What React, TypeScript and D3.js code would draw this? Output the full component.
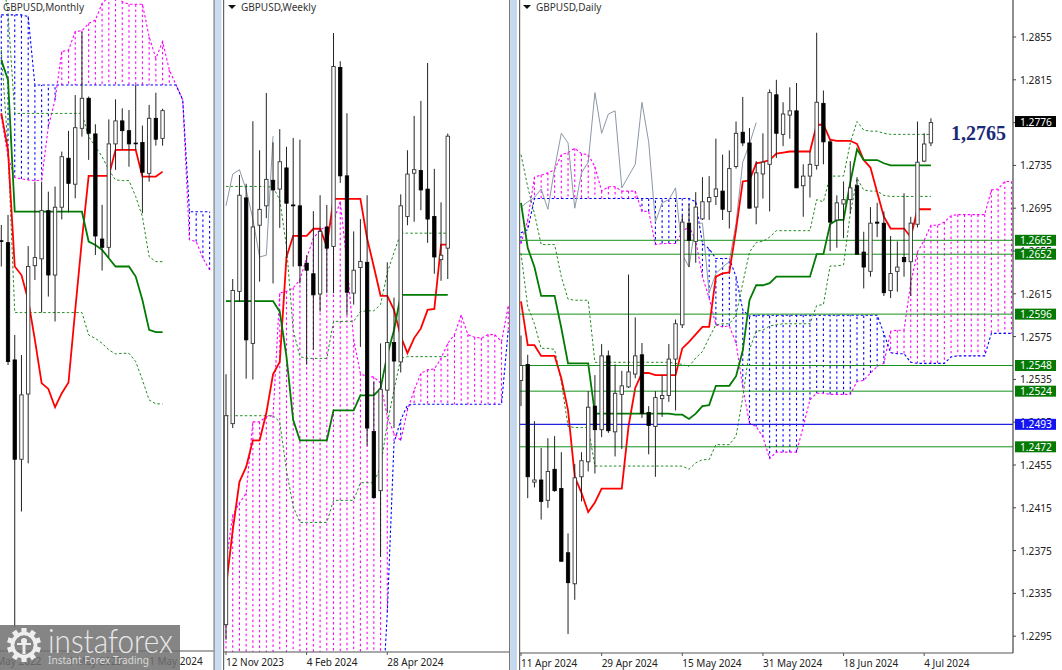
import * as d3 from "d3";

type Bar = [number, number, number, number]; // open, high, low, close

// --- Monthly ---
const monthlyBars: Bar[] = [
  [1.2163, 1.2237, 1.2042, 1.216], [1.2154, 1.2284, 1.158, 1.1596], [1.1604, 1.1721, 1.035, 1.1138], [1.1138, 1.1627, 1.0893, 1.144],
  [1.1444, 1.2138, 1.1119, 1.2042], [1.2046, 1.244, 1.1979, 1.2084], [1.2078, 1.244, 1.1826, 1.2304], [1.2304, 1.2393, 1.1901, 1.2002],
  [1.2002, 1.2417, 1.1784, 1.232], [1.232, 1.2581, 1.2263, 1.2557], [1.255, 1.2678, 1.2296, 1.2432], [1.2428, 1.2846, 1.2362, 1.2693],
  [1.269, 1.3143, 1.2651, 1.2831], [1.2831, 1.2839, 1.2542, 1.2667], [1.2664, 1.2709, 1.2096, 1.2185], [1.2171, 1.2331, 1.2023, 1.2132],
  [1.2132, 1.2732, 1.2085, 1.2617], [1.2617, 1.2826, 1.2495, 1.2725], [1.2725, 1.2784, 1.2589, 1.2679], [1.2679, 1.2776, 1.251, 1.2617],
  [1.2621, 1.2893, 1.2589, 1.2618], [1.2624, 1.2703, 1.2292, 1.2484], [1.2479, 1.28, 1.244, 1.2737], [1.2737, 1.2857, 1.2609, 1.2639],
  [1.2643, 1.2782, 1.2609, 1.2773],
];
const monthlyTenkan = [1.2761, 1.2588, 1.2042, 1.2002, 1.1885, 1.1698, 1.1495, 1.1468, 1.1382, 1.1448, 1.1498, 1.1838, 1.2167, 1.2467, 1.2467, 1.2467, 1.2467, 1.2589, 1.2589, 1.2589, 1.2589, 1.2464, 1.2464, 1.2464, 1.2487];
const monthlyKijun = [1.301, 1.2917, 1.2299, 1.2299, 1.2299, 1.2299, 1.2299, 1.2299, 1.2299, 1.2299, 1.2299, 1.2299, 1.2299, 1.2159, 1.2143, 1.212, 1.2081, 1.2042, 1.2042, 1.2042, 1.1995, 1.1885, 1.1745, 1.1734, 1.1734];
const monthlyUpper = [1.3448, 1.3229, 1.276, 1.276, 1.276, 1.276, 1.276, 1.276, 1.276, 1.276, 1.276, 1.276, 1.276, 1.2651, 1.2604, 1.2557, 1.2495, 1.2448, 1.2445, 1.2445, 1.237, 1.2276, 1.2088, 1.2065, 1.2065];
const monthlyLower = [1.3057, 1.2589, 1.1826, 1.1826, 1.1826, 1.1826, 1.1826, 1.1826, 1.1826, 1.1826, 1.1826, 1.1826, 1.1826, 1.1721, 1.1705, 1.1682, 1.1651, 1.1632, 1.1635, 1.1635, 1.1596, 1.151, 1.1416, 1.1398, 1.1398];
const monthlySpanA = [1.2745, 1.2557, 1.2459, 1.2453, 1.2448, 1.2445, 1.2448, 1.2698, 1.2823, 1.305, 1.3057, 1.3143, 1.3148, 1.3182, 1.3198, 1.3276, 1.3307, 1.3323, 1.3284, 1.3272, 1.3272, 1.3272, 1.312, 1.3018, 1.3097, 1.2964, 1.2893, 1.2823, 1.2167, 1.2159, 1.2081, 1.2026];
const monthlySpanB = [1.3222, 1.3222, 1.3222, 1.3222, 1.3214, 1.2893, 1.2893, 1.2893, 1.2893, 1.2893, 1.2893, 1.2893, 1.2893, 1.2893, 1.2893, 1.2893, 1.2893, 1.2893, 1.2893, 1.2893, 1.2893, 1.2893, 1.2893, 1.2893, 1.2893, 1.2893, 1.2893, 1.2823, 1.2299, 1.2299, 1.2299, 1.2299];
const monthlyDates: [number, string][] = [[-2, "1 May 2022"], [10, "1 May 2023"], [22, "1 May 2024"]];

// --- Weekly ---
const weeklyBars: Bar[] = [
  [1.2223, 1.2507, 1.2206, 1.246], [1.2451, 1.2615, 1.2446, 1.2602], [1.2601, 1.2733, 1.2589, 1.271], [1.2707, 1.2723, 1.2502, 1.2546],
  [1.2542, 1.2794, 1.2501, 1.2674], [1.2676, 1.2761, 1.2612, 1.2694], [1.2698, 1.2826, 1.2684, 1.2728], [1.2727, 1.277, 1.261, 1.2716],
  [1.2717, 1.2785, 1.2673, 1.2748], [1.2741, 1.2765, 1.2639, 1.2701], [1.2699, 1.2775, 1.2629, 1.2698], [1.2698, 1.2773, 1.261, 1.263],
  [1.2633, 1.2642, 1.2518, 1.2625], [1.2621, 1.2692, 1.2535, 1.2597], [1.2598, 1.271, 1.2578, 1.2669], [1.2674, 1.2699, 1.2599, 1.265],
  [1.2652, 1.2894, 1.2599, 1.2856], [1.2855, 1.2862, 1.2724, 1.2732], [1.2732, 1.2803, 1.2574, 1.26], [1.2599, 1.2669, 1.2586, 1.2625],
  [1.2628, 1.2683, 1.2538, 1.2635], [1.2634, 1.271, 1.2426, 1.2446], [1.2442, 1.2499, 1.2367, 1.2367], [1.2375, 1.2542, 1.23, 1.249],
  [1.2489, 1.2634, 1.2463, 1.2543], [1.2543, 1.2594, 1.2446, 1.2522], [1.2521, 1.2711, 1.2509, 1.2698], [1.2686, 1.2761, 1.2676, 1.2734],
  [1.2735, 1.28, 1.268, 1.2739], [1.2738, 1.2817, 1.2693, 1.2716], [1.2717, 1.286, 1.2656, 1.2683], [1.2686, 1.274, 1.2621, 1.264],
  [1.2637, 1.2702, 1.2613, 1.2642], [1.265, 1.278, 1.2615, 1.2777],
];
const weeklyTenkan = [1.2266, 1.233, 1.2385, 1.2402, 1.2432, 1.2432, 1.2463, 1.2507, 1.2521, 1.264, 1.2664, 1.2664, 1.2664, 1.2672, 1.2672, 1.2652, 1.2706, 1.2706, 1.2706, 1.2706, 1.2706, 1.2661, 1.2629, 1.2596, 1.2596, 1.258, 1.255, 1.2531, 1.2548, 1.2559, 1.258, 1.2581, 1.2654, 1.2654];
const weeklyKijun = [1.259, 1.259, 1.259, 1.259, 1.259, 1.259, 1.259, 1.259, 1.2578, 1.2527, 1.2455, 1.2432, 1.2432, 1.2432, 1.2432, 1.2432, 1.2466, 1.2466, 1.2466, 1.2466, 1.2483, 1.2483, 1.2483, 1.2491, 1.2529, 1.2557, 1.2597, 1.2597, 1.2597, 1.2597, 1.2597, 1.2597, 1.2597, 1.2597];
const weeklyUpper = [1.272, 1.272, 1.272, 1.272, 1.272, 1.272, 1.272, 1.2719, 1.2705, 1.2652, 1.2557, 1.2527, 1.2525, 1.2525, 1.2525, 1.2525, 1.2567, 1.2567, 1.2567, 1.2567, 1.2578, 1.2579, 1.2579, 1.2586, 1.2622, 1.2645, 1.2667, 1.2667, 1.2667, 1.2667, 1.2667, 1.2667, 1.2667, 1.2667];
const weeklyLower = [1.246, 1.246, 1.246, 1.246, 1.246, 1.246, 1.246, 1.246, 1.2453, 1.2398, 1.2357, 1.2339, 1.2339, 1.2339, 1.2339, 1.2339, 1.2364, 1.2364, 1.2364, 1.2364, 1.2384, 1.2384, 1.2384, 1.2402, 1.2451, 1.2489, 1.2525, 1.2527, 1.2527, 1.2527, 1.2527, 1.2527, 1.2527, 1.2527];
const weeklySpanA = [1.2293, 1.2347, 1.2361, 1.2372, 1.2453, 1.2453, 1.2459, 1.246, 1.2599, 1.2601, 1.2605, 1.2614, 1.2639, 1.2661, 1.2671, 1.2674, 1.268, 1.2703, 1.2633, 1.2546, 1.2508, 1.2504, 1.2504, 1.2497, 1.2459, 1.244, 1.2432, 1.2466, 1.2489, 1.2508, 1.2512, 1.2513, 1.2525, 1.2542, 1.2552, 1.2574, 1.2552, 1.2549, 1.2548, 1.2552, 1.2552, 1.2544, 1.2584];
const weeklySpanB = [1.2037, 1.2037, 1.2037, 1.2037, 1.2037, 1.2037, 1.2037, 1.2037, 1.2037, 1.2037, 1.2037, 1.2037, 1.2037, 1.2037, 1.2037, 1.2037, 1.2037, 1.2037, 1.2037, 1.2037, 1.2037, 1.2037, 1.2037, 1.21, 1.2236, 1.2429, 1.2455, 1.2472, 1.2473, 1.2473, 1.2473, 1.2473, 1.2473, 1.2473, 1.2473, 1.2473, 1.2473, 1.2473, 1.2473, 1.2473, 1.2473, 1.2473, 1.2557];
const weeklyDates: [number, string][] = [[0, "12 Nov 2023"], [12, "4 Feb 2024"], [24, "28 Apr 2024"]];

// --- Daily ---
const dailyBars: Bar[] = [
  [1.2534, 1.2576, 1.251, 1.2548], [1.2549, 1.2558, 1.2424, 1.2444], [1.2439, 1.2496, 1.2434, 1.2441], [1.2441, 1.2471, 1.2404, 1.2421],
  [1.2422, 1.248, 1.2415, 1.2449], [1.2451, 1.2482, 1.243, 1.2431], [1.2433, 1.2467, 1.2365, 1.2365], [1.2373, 1.2391, 1.2297, 1.2345],
  [1.2344, 1.2456, 1.2329, 1.2443], [1.2444, 1.2467, 1.2421, 1.2459], [1.2458, 1.2524, 1.2449, 1.2509], [1.251, 1.2539, 1.2447, 1.2488],
  [1.2488, 1.2568, 1.2481, 1.2557], [1.2557, 1.2562, 1.2485, 1.2487], [1.2486, 1.2549, 1.2463, 1.2522], [1.2521, 1.2543, 1.247, 1.2529],
  [1.2528, 1.2633, 1.2527, 1.2542], [1.254, 1.2593, 1.2536, 1.2557], [1.2558, 1.2569, 1.2499, 1.2503], [1.2504, 1.251, 1.2465, 1.2492],
  [1.2491, 1.2524, 1.2444, 1.2518], [1.2517, 1.2539, 1.25, 1.252], [1.252, 1.2568, 1.2514, 1.2554], [1.2554, 1.2591, 1.2506, 1.2587],
  [1.2586, 1.2688, 1.2583, 1.2682], [1.2681, 1.2699, 1.264, 1.2665], [1.2664, 1.271, 1.2644, 1.2696], [1.2685, 1.2724, 1.2684, 1.2701],
  [1.2701, 1.2725, 1.2684, 1.2705], [1.2706, 1.276, 1.2698, 1.2713], [1.2711, 1.2745, 1.2684, 1.2694], [1.2692, 1.2749, 1.2676, 1.2732],
  [1.2734, 1.2776, 1.2732, 1.2765], [1.2766, 1.2799, 1.2753, 1.2756], [1.2756, 1.277, 1.2695, 1.2695], [1.2696, 1.2739, 1.268, 1.2728],
  [1.2727, 1.2765, 1.2704, 1.2738], [1.2736, 1.2806, 1.2692, 1.2803], [1.2801, 1.2815, 1.2742, 1.2765], [1.2764, 1.2794, 1.2753, 1.2783],
  [1.2782, 1.2808, 1.276, 1.2786], [1.2786, 1.2812, 1.2714, 1.2714], [1.2716, 1.2736, 1.2687, 1.2725], [1.2725, 1.2748, 1.2705, 1.2736],
  [1.2735, 1.2859, 1.2731, 1.2794], [1.2793, 1.2805, 1.2736, 1.2757], [1.2757, 1.2759, 1.2655, 1.2682], [1.2684, 1.2707, 1.2658, 1.27],
  [1.2699, 1.272, 1.2667, 1.2703], [1.2703, 1.2739, 1.269, 1.2714], [1.2716, 1.2724, 1.2652, 1.2652], [1.2654, 1.2673, 1.262, 1.264],
  [1.2636, 1.2696, 1.2631, 1.2681], [1.2682, 1.27, 1.2668, 1.2681], [1.2681, 1.2692, 1.2613, 1.2616], [1.2618, 1.2669, 1.2611, 1.2634],
  [1.2636, 1.2664, 1.2617, 1.264], [1.2649, 1.2709, 1.2631, 1.2645], [1.2645, 1.2687, 1.2613, 1.2681], [1.268, 1.2776, 1.2677, 1.2738],
  [1.2739, 1.2765, 1.2738, 1.2755], [1.2756, 1.2779, 1.2753, 1.2775],
];
const dailyTenkan = [1.2608, 1.2567, 1.2567, 1.2557, 1.2557, 1.2557, 1.2536, 1.2506, 1.2444, 1.2429, 1.2411, 1.242, 1.2433, 1.2433, 1.2433, 1.2433, 1.2491, 1.2527, 1.2541, 1.2541, 1.2539, 1.2539, 1.2539, 1.2539, 1.2564, 1.257, 1.2577, 1.2584, 1.2584, 1.2631, 1.2634, 1.2635, 1.2675, 1.272, 1.2721, 1.2737, 1.2738, 1.274, 1.2746, 1.2747, 1.2748, 1.2748, 1.2748, 1.2748, 1.2773, 1.2773, 1.2759, 1.2758, 1.2758, 1.2758, 1.2755, 1.274, 1.2733, 1.271, 1.2687, 1.2676, 1.2676, 1.2676, 1.2668, 1.2694, 1.2694, 1.2694];
const dailyKijun = [1.27, 1.2658, 1.264, 1.2613, 1.2613, 1.2613, 1.2583, 1.255, 1.255, 1.255, 1.255, 1.2503, 1.2503, 1.2503, 1.2503, 1.2503, 1.2503, 1.2503, 1.2503, 1.2503, 1.2503, 1.2503, 1.2503, 1.2502, 1.2502, 1.2498, 1.2503, 1.251, 1.2511, 1.2529, 1.2529, 1.2529, 1.2538, 1.2562, 1.2609, 1.2623, 1.2623, 1.2625, 1.2631, 1.2631, 1.2631, 1.2631, 1.2631, 1.2631, 1.2652, 1.2652, 1.268, 1.2684, 1.2684, 1.2719, 1.275, 1.274, 1.274, 1.274, 1.2737, 1.2735, 1.2735, 1.2735, 1.2735, 1.2735, 1.2735, 1.2735];
const dailyUpper = [1.2745, 1.2715, 1.269, 1.2661, 1.2661, 1.2661, 1.2631, 1.261, 1.2609, 1.2609, 1.2609, 1.2551, 1.2551, 1.2551, 1.2551, 1.2551, 1.2551, 1.2551, 1.2551, 1.2551, 1.2551, 1.2551, 1.2551, 1.255, 1.2549, 1.2547, 1.2555, 1.2561, 1.2574, 1.2586, 1.2587, 1.2587, 1.2595, 1.2625, 1.2654, 1.2663, 1.2664, 1.2668, 1.2674, 1.2674, 1.2674, 1.2674, 1.2674, 1.2674, 1.2703, 1.2701, 1.2725, 1.2725, 1.2725, 1.2756, 1.2776, 1.2768, 1.2767, 1.2767, 1.2765, 1.2764, 1.2764, 1.2764, 1.2764, 1.2764, 1.2764, 1.2764];
const dailyLower = [1.2653, 1.2603, 1.2587, 1.2564, 1.2564, 1.2563, 1.2533, 1.2491, 1.249, 1.249, 1.249, 1.2454, 1.2454, 1.2454, 1.2454, 1.2454, 1.2454, 1.2454, 1.2454, 1.2454, 1.2454, 1.2454, 1.2454, 1.2454, 1.2454, 1.2451, 1.2457, 1.246, 1.246, 1.2474, 1.2474, 1.2474, 1.2482, 1.2518, 1.2563, 1.258, 1.2581, 1.2585, 1.2586, 1.2587, 1.2587, 1.2587, 1.2587, 1.2587, 1.2604, 1.2605, 1.2641, 1.2641, 1.2642, 1.269, 1.2723, 1.2712, 1.2711, 1.2711, 1.2707, 1.2706, 1.2706, 1.2706, 1.2706, 1.2706, 1.2706, 1.2706];
const dailySpanA = [1.2662, 1.2684, 1.2724, 1.2726, 1.2728, 1.2731, 1.2745, 1.2747, 1.2751, 1.2746, 1.2745, 1.2734, 1.2711, 1.2715, 1.2715, 1.2711, 1.2711, 1.2711, 1.2692, 1.2692, 1.2661, 1.2662, 1.2662, 1.2662, 1.2673, 1.2678, 1.2665, 1.2631, 1.2611, 1.2586, 1.2584, 1.2585, 1.2569, 1.2528, 1.2494, 1.2491, 1.2481, 1.2461, 1.2467, 1.2467, 1.2467, 1.2467, 1.2491, 1.2516, 1.2522, 1.2522, 1.2521, 1.2521, 1.2521, 1.2521, 1.2533, 1.2534, 1.2541, 1.2547, 1.255, 1.258, 1.2581, 1.2581, 1.2625, 1.2654, 1.2665, 1.2679, 1.2679, 1.2682, 1.2688, 1.2689, 1.2689, 1.2689, 1.2689, 1.2689, 1.2712, 1.2713, 1.272, 1.272];
const dailySpanB = [1.2672, 1.2675, 1.2704, 1.2704, 1.2704, 1.2704, 1.2704, 1.2704, 1.2704, 1.2704, 1.2704, 1.2704, 1.2704, 1.2704, 1.2704, 1.2704, 1.2704, 1.2704, 1.2704, 1.2704, 1.2704, 1.2704, 1.2704, 1.2704, 1.2704, 1.2704, 1.2701, 1.2662, 1.2657, 1.2648, 1.2648, 1.2648, 1.2631, 1.26, 1.2594, 1.2595, 1.2595, 1.2595, 1.2595, 1.2595, 1.2595, 1.2595, 1.2595, 1.2595, 1.2595, 1.2595, 1.2595, 1.2595, 1.2595, 1.2595, 1.2595, 1.2595, 1.2595, 1.2595, 1.2578, 1.256, 1.2559, 1.2559, 1.2551, 1.255, 1.255, 1.255, 1.255, 1.255, 1.2556, 1.2557, 1.2557, 1.2557, 1.2557, 1.2557, 1.2578, 1.2578, 1.2578, 1.2578];
const dailyDates: [number, string][] = [[0, "11 Apr 2024"], [12, "29 Apr 2024"], [24, "15 May 2024"], [36, "31 May 2024"], [48, "18 Jun 2024"], [60, "4 Jul 2024"]];
const dailyTicks = [1.2855, 1.2815, 1.2775, 1.2735, 1.2695, 1.2655, 1.2615, 1.2575, 1.2535, 1.2495, 1.2455, 1.2415, 1.2375, 1.2335, 1.2295];
const levelsGreen = [1.2665, 1.2652, 1.2596, 1.2548, 1.2524, 1.2472];
const levelBlue = 1.2493;
const lastPrice = 1.2776;
const noteText = "1,2765";

const FONT = "'Noto Sans', sans-serif";
const BAR_STEP = 6.72;

interface PanelProps {
  id: string;
  title: string;
  left: number; // x of first bar
  clip: [number, number];
  bottom: number;
  yDomain: [number, number];
  yRange: [number, number];
  bars: Bar[];
  tenkan: number[];
  kijun: number[];
  upper: number[];
  lower: number[];
  spanA: number[];
  spanB: number[];
  dates: [number, string][];
  titleX: number;
  levels?: boolean;
}

function Panel(p: PanelProps) {
  const x = d3.scaleLinear().domain([0, 1]).range([p.left, p.left + BAR_STEP]);
  const y = d3.scaleLinear().domain(p.yDomain).range(p.yRange);
  const line = d3
    .line<number>()
    .x((_, i) => x(i))
    .y((d) => y(d));
  const chikou = p.bars.slice(26).map((b) => b[3]);

  return (
    <g>
      <clipPath id={p.id}>
        <rect x={p.clip[0]} y={0} width={p.clip[1] - p.clip[0]} height={p.bottom} />
      </clipPath>
      <g clipPath={`url(#${p.id})`}>
        {/* nube: rayado vertical */}
        {p.spanA.map((a, i) => (
          <line
            key={i}
            x1={x(i)}
            x2={x(i)}
            y1={y(a)}
            y2={y(p.spanB[i])}
            stroke={a >= p.spanB[i] ? "#ff00ff" : "#0000ff"}
            strokeWidth={1.1}
            strokeDasharray="2.4 2.8"
          />
        ))}
        <path d={line(p.spanA) || ""} fill="none" stroke="#ff00ff" strokeWidth={1.1} strokeDasharray="2.5 2.2" />
        <path d={line(p.spanB) || ""} fill="none" stroke="#0000ff" strokeWidth={1.1} strokeDasharray="2.5 2.2" />

        <path d={line(chikou) || ""} fill="none" stroke="#8c98a6" strokeWidth={1} />
        <path d={line(p.upper) || ""} fill="none" stroke="#1f8a1f" strokeDasharray="2.5 2.2" />
        <path d={line(p.lower) || ""} fill="none" stroke="#1f8a1f" strokeDasharray="2.5 2.2" />
        <path d={line(p.tenkan) || ""} fill="none" stroke="#ff0000" strokeWidth={1.8} />
        <path d={line(p.kijun) || ""} fill="none" stroke="#007a00" strokeWidth={1.8} />

        {p.levels &&
          levelsGreen.map((v) => (
            <line key={v} x1={p.clip[0]} x2={p.clip[1]} y1={y(v)} y2={y(v)} stroke="#16901a" strokeWidth={1} />
          ))}
        {p.levels && (
          <line x1={p.clip[0]} x2={p.clip[1]} y1={y(levelBlue)} y2={y(levelBlue)} stroke="#2020e0" strokeWidth={1.2} />
        )}

        {/* velas */}
        {p.bars.map(([o, h, l, c], i) => {
          const up = c >= o;
          const top = y(Math.max(o, c));
          const bot = y(Math.min(o, c));
          return (
            <g key={i}>
              <line x1={x(i)} x2={x(i)} y1={y(h)} y2={y(l)} stroke="#222" strokeWidth={1} />
              <rect
                x={x(i) - 1.7}
                y={top}
                width={3.4}
                height={Math.max(bot - top, 0.8)}
                fill={up ? "#fff" : "#000"}
                stroke={up ? "#333" : "#000"}
                strokeWidth={up ? 0.9 : 0.8}
              />
            </g>
          );
        })}
      </g>

      <line x1={p.clip[0]} x2={p.clip[1]} y1={p.bottom} y2={p.bottom} stroke="#555" strokeWidth={1.2} />
      {p.dates.map(([i, label]) => (
        <g key={label}>
          <line x1={x(i)} x2={x(i)} y1={p.bottom} y2={p.bottom + 3} stroke="#555" />
          <text x={x(i)} y={p.bottom + 13.5} fontFamily={FONT} fontSize={10} fill="#222">
            {label}
          </text>
        </g>
      ))}
      <text x={p.titleX} y={10.5} fontFamily={FONT} fontSize={10} fill="#333">
        {p.title}
      </text>
    </g>
  );
}

function DailyAxis() {
  const y = d3.scaleLinear().domain([1.2855, 1.2295]).range([37, 636.2]);
  const tag = (v: number, color: string) => (
    <g key={v}>
      <rect x={1015} y={y(v) - 5.5} width={41} height={11} fill={color} />
      <text x={1020} y={y(v) + 4} fontFamily={FONT} fontSize={10.2} fill="#fff">
        {v.toFixed(4)}
      </text>
    </g>
  );
  return (
    <g>
      <line x1={1013} x2={1013} y1={0} y2={653} stroke="#444" strokeWidth={1.2} />
      {dailyTicks.map((t) => (
        <g key={t}>
          <line x1={1013} x2={1016} y1={y(t)} y2={y(t)} stroke="#444" />
          <text x={1020} y={y(t) + 4} fontFamily={FONT} fontSize={10.2} fill="#222">
            {t.toFixed(4)}
          </text>
        </g>
      ))}
      {levelsGreen.map((v) => tag(v, "#047a04"))}
      {tag(levelBlue, "#1414f0")}
      {tag(lastPrice, "#000")}
      <text x={951} y={140} fontFamily="'Liberation Serif', serif" fontWeight="bold" fontSize={20} fill="#1a2a78">
        {noteText}
      </text>
    </g>
  );
}

// triangulito del menú de cada ventana
function Arrow({ x }: { x: number }) {
  return <path d={`M${x},5 h8 l-4,4 z`} fill="#111" />;
}

function Watermark() {
  const teeth = d3.range(10).map((i) => (i * 360) / 10);
  return (
    <g>
      <rect x={0} y={625} width={180} height={45} fill="#707070" opacity={0.85} />
      <g transform="translate(24,645)" fill="#eee">
        {teeth.map((a) => (
          <rect key={a} x={-2.6} y={-17} width={5.2} height={7} transform={`rotate(${a})`} />
        ))}
        <circle r={11.5} fill="none" stroke="#eee" strokeWidth={3.6} />
        <circle cy={-4} r={3} />
        <rect x={-1.5} y={-1} width={3} height={10} />
        <rect x={-7} y={-2} width={14} height={2} />
      </g>
      <text x={48} y={653} fontFamily="Lato, sans-serif" fontWeight={300} fontSize={33} fill="#e8e8e8" textLength={125} lengthAdjust="spacingAndGlyphs">
        instaforex
      </text>
      <text x={48} y={664} fontFamily={FONT} fontSize={11.5} fill="#d8d8d8" textLength={101} lengthAdjust="spacingAndGlyphs">
        Instant Forex Trading
      </text>
    </g>
  );
}

export default function App() {
  return (
    <svg width={1062} height={670} style={{ position: "fixed", left: 0, top: 0, background: "#fff" }}>
      <rect x={213.5} y={0} width={1.2} height={670} fill="#777" />
      <rect x={215} y={0} width={6.5} height={670} fill="#c9dcf1" />
      <rect x={223} y={0} width={1.2} height={670} fill="#666" />
      <rect x={509} y={0} width={1.2} height={670} fill="#777" />
      <rect x={510.5} y={0} width={6.5} height={670} fill="#c4d8ef" />
      <rect x={519} y={0} width={1.2} height={670} fill="#666" />

      <Panel
        id="clip-m"
        title="GBPUSD,Monthly"
        titleX={3}
        left={1.3}
        clip={[0, 213.5]}
        bottom={651}
        yDomain={[1.2776, 1.035]}
        yRange={[110, 627.3]}
        bars={monthlyBars}
        tenkan={monthlyTenkan}
        kijun={monthlyKijun}
        upper={monthlyUpper}
        lower={monthlyLower}
        spanA={monthlySpanA}
        spanB={monthlySpanB}
        dates={monthlyDates}
      />
      <Panel
        id="clip-w"
        title="GBPUSD,Weekly"
        titleX={241}
        left={226}
        clip={[224, 509]}
        bottom={652}
        yDomain={[1.2894, 1.23]}
        yRange={[33, 556.8]}
        bars={weeklyBars}
        tenkan={weeklyTenkan}
        kijun={weeklyKijun}
        upper={weeklyUpper}
        lower={weeklyLower}
        spanA={weeklySpanA}
        spanB={weeklySpanB}
        dates={weeklyDates}
      />
      <Panel
        id="clip-d"
        title="GBPUSD,Daily"
        titleX={536}
        left={521}
        clip={[520, 1013]}
        bottom={653}
        yDomain={[1.2855, 1.2295]}
        yRange={[37, 636.2]}
        bars={dailyBars}
        tenkan={dailyTenkan}
        kijun={dailyKijun}
        upper={dailyUpper}
        lower={dailyLower}
        spanA={dailySpanA}
        spanB={dailySpanB}
        dates={dailyDates}
        levels
      />
      <Arrow x={228} />
      <Arrow x={523} />
      <DailyAxis />
      <Watermark />
    </svg>
  );
}
